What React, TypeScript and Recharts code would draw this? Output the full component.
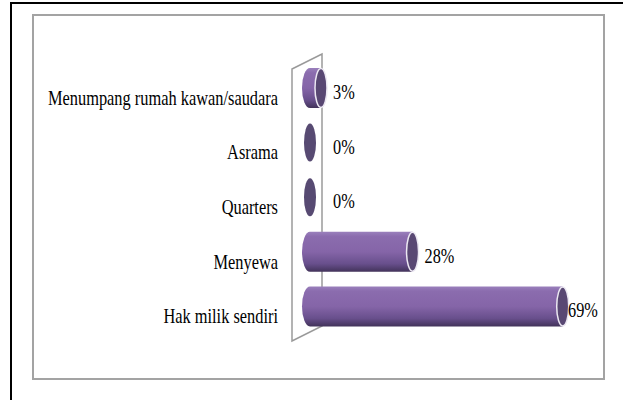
import React from 'react';
import { BarChart, Bar, XAxis, YAxis, LabelList } from 'recharts';

const categories = [
  'Menumpang rumah kawan/saudara',
  'Asrama',
  'Quarters',
  'Menyewa',
  'Hak milik sendiri',
];
const percentages = [3, 0, 0, 28, 69];

const data = categories.map((name, i) => ({ name, value: percentages[i] }));

const W = 623;
const H = 400;
const margin = { top: 61, right: 20, bottom: 66, left: 0 };
const axisWidth = 310;
const FONT = "'Liberation Serif', 'Times New Roman', serif";
const CAP_RX = 6;

function CylinderBar(props: any) {
  const { x, y, width, height } = props;
  const h = height;
  const cy = y + h / 2;
  if (!width || width <= 0) {
    return <ellipse cx={x} cy={cy} rx={CAP_RX} ry={h / 2 - 1} fill="#574a72" />;
  }
  const body = `M ${x} ${y} L ${x + width} ${y} L ${x + width} ${y + h} L ${x} ${y + h} A 8 ${h / 2} 0 0 1 ${x} ${y} Z`;
  return (
    <g>
      <path d={body} fill="url(#cylBody)" />
      <ellipse
        cx={x + width}
        cy={cy}
        rx={CAP_RX}
        ry={h / 2 - 0.5}
        fill="#594873"
        stroke="#ece8f2"
        strokeWidth={1.5}
      />
    </g>
  );
}

function ValueLabel(props: any) {
  const { x, y, width, height, value } = props;
  const plotRight = W - margin.right;
  let lx = x + Math.max(width, 11) + 12;
  lx = Math.min(lx, plotRight - 35);
  return (
    <g transform={`translate(${lx},${y + height / 2 + 11}) scale(0.74,1)`}>
      <text x={0} y={0} style={{ fontFamily: FONT, fontSize: 22 }} fill="#000">
        {`${value}%`}
      </text>
    </g>
  );
}

function CategoryTick(props: any) {
  const { x, y, payload } = props;
  return (
    <g transform={`translate(${x},${y + 16.5}) scale(0.745,1)`}>
      <text x={0} y={0} textAnchor="end" style={{ fontFamily: FONT, fontSize: 22 }} fill="#000">
        {payload.value}
      </text>
    </g>
  );
}

export default function App() {
  // back wall of the 3D chart
  const wallL = 292;
  const wallR = 322;
  const wallTop = 69;
  const wallBottom = 341;
  const skew = 15;
  const wall = `${wallL},${wallTop} ${wallR},${wallTop - skew} ${wallR},${wallBottom - skew} ${wallL},${wallBottom}`;

  return (
    <div style={{ position: 'absolute', left: 0, top: 0, width: W, height: H, background: '#fff', overflow: 'hidden', fontFamily: FONT }}>
      <div
        style={{
          position: 'absolute',
          left: 10,
          top: 2,
          width: W,
          height: H,
          borderLeft: '2px solid #000',
          borderTop: '2px solid #000',
        }}
      />
      <div
        style={{
          position: 'absolute',
          left: 32,
          top: 14,
          width: 573,
          height: 366,
          boxSizing: 'border-box',
          border: '2px solid #a3a3a3',
        }}
      />
      <svg width={W} height={H} style={{ position: 'absolute', left: 0, top: 0 }}>
        <polygon points={wall} fill="#fff" stroke="#9a9a9a" strokeWidth={1.5} />
      </svg>
      <div style={{ position: 'absolute', left: 0, top: 0 }}>
        <BarChart width={W} height={H} data={data} layout="vertical" margin={margin}>
          <defs>
            <linearGradient id="cylBody" x1="0" y1="0" x2="0" y2="1">
              <stop offset="0" stopColor="#9a80bc" />
              <stop offset="0.12" stopColor="#8b6cae" />
              <stop offset="0.5" stopColor="#8565a8" />
              <stop offset="0.8" stopColor="#684f8c" />
              <stop offset="1" stopColor="#42335a" />
            </linearGradient>
          </defs>
          <XAxis type="number" domain={[0, 80]} hide />
          <YAxis
            type="category"
            dataKey="name"
            width={axisWidth}
            axisLine={false}
            tickLine={false}
            tickSize={0}
            tickMargin={32}
            tick={<CategoryTick />}
            interval={0}
          />
          <Bar dataKey="value" barSize={40} shape={<CylinderBar />} isAnimationActive={false}>
            <LabelList dataKey="value" content={<ValueLabel />} />
          </Bar>
        </BarChart>
      </div>
    </div>
  );
}
